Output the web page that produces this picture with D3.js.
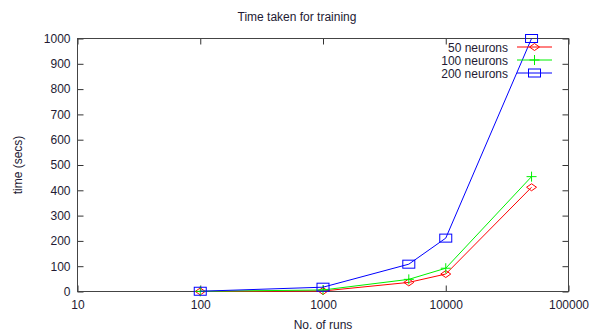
<!DOCTYPE html>
<html>
<head>
<meta charset="utf-8">
<script src="https://cdn.jsdelivr.net/npm/d3@7"></script>
<style>
  html, body { margin: 0; padding: 0; background: #fff; }
  svg text { font-family: "Liberation Sans", Arial, sans-serif; font-size: 12px; fill: #231a33; }
</style>
</head>
<body>
<svg id="chart" width="593" height="333"></svg>
<script>
// Training time against number of runs, for three network sizes
const runs = [100, 1000, 5000, 10000, 50000];
const neurons50 = [0.3, 2, 36, 69, 412];
const neurons100 = [0.6, 6, 48, 92, 454];
const neurons200 = [1, 17, 108, 211, 1000];
const seriesNames = ["50 neurons", "100 neurons", "200 neurons"];
const xTicks = [10, 100, 1000, 10000, 100000];
const yTicks = [0, 100, 200, 300, 400, 500, 600, 700, 800, 900, 1000];

const series = [
  { name: seriesNames[0], values: neurons50, color: "#ff0000", marker: "diamond" },
  { name: seriesNames[1], values: neurons100, color: "#00f000", marker: "plus" },
  { name: seriesNames[2], values: neurons200, color: "#0000ff", marker: "square" }
];

const svg = d3.select("#chart");
const m = { left: 77.5, right: 568.5, top: 38.5, bottom: 291.5 };

const x = d3.scaleLog().domain([10, 100000]).range([m.left, m.right]);
const y = d3.scaleLinear().domain([0, 1000]).range([m.bottom, m.top]);

// Title and axis labels
svg.append("text").attr("x", 297).attr("y", 21).attr("text-anchor", "middle").text("Time taken for training");
svg.append("text").attr("x", 323).attr("y", 329).attr("text-anchor", "middle").text("No. of runs");
svg.append("text")
  .attr("transform", "translate(22,165) rotate(-90)")
  .attr("text-anchor", "middle").text("time (secs)");

const fmt = d3.format("d");
function styleAxis(g) {
  g.select(".domain").remove();
  g.selectAll(".tick line").attr("stroke", "#333");
  g.selectAll(".tick text").attr("fill", null).style("font-size", "12px");
}

// Ticks point inward on all four sides
svg.append("g").attr("transform", `translate(0,${m.bottom})`)
  .call(d3.axisBottom(x).tickValues(xTicks).tickFormat(fmt).tickSizeInner(-6).tickSizeOuter(0).tickPadding(9))
  .call(styleAxis);
svg.append("g").attr("transform", `translate(0,${m.top})`)
  .call(d3.axisTop(x).tickValues(xTicks).tickFormat("").tickSizeInner(-6).tickSizeOuter(0))
  .call(styleAxis);
svg.append("g").attr("transform", `translate(${m.left},0)`)
  .call(d3.axisLeft(y).tickValues(yTicks).tickFormat(fmt).tickSizeInner(-6).tickSizeOuter(0).tickPadding(7))
  .call(styleAxis);
svg.append("g").attr("transform", `translate(${m.right},0)`)
  .call(d3.axisRight(y).tickValues(yTicks).tickFormat("").tickSizeInner(-6).tickSizeOuter(0))
  .call(styleAxis);

svg.append("rect")
  .attr("x", m.left).attr("y", m.top)
  .attr("width", m.right - m.left).attr("height", m.bottom - m.top)
  .attr("fill", "none").attr("stroke", "#444").attr("stroke-width", 1);

function drawMarker(g, type, cx, cy, color) {
  if (type === "diamond") {
    g.append("path")
      .attr("d", `M${cx - 5},${cy} L${cx},${cy - 3.5} L${cx + 5},${cy} L${cx},${cy + 3.5} Z`)
      .attr("fill", "none").attr("stroke", color).attr("stroke-width", 1);
  } else if (type === "plus") {
    g.append("path")
      .attr("d", `M${cx - 5},${cy} H${cx + 5} M${cx},${cy - 5} V${cy + 5}`)
      .attr("fill", "none").attr("stroke", color).attr("stroke-width", 1);
  } else {
    g.append("rect")
      .attr("x", cx - 6).attr("y", cy - 4).attr("width", 12).attr("height", 8)
      .attr("fill", "none").attr("stroke", color).attr("stroke-width", 1);
  }
}

const line = d3.line().x(d => x(d[0])).y(d => y(d[1]));

series.forEach(s => {
  const g = svg.append("g");
  const pts = runs.map((r, i) => [r, s.values[i]]);
  g.append("path").attr("d", line(pts))
    .attr("fill", "none").attr("stroke", s.color).attr("stroke-width", 1);
  pts.forEach(p => drawMarker(g, s.marker, x(p[0]), y(p[1]), s.color));
});

// Legend in the upper right corner
const legendY = [47, 60, 73];
series.forEach((s, i) => {
  const g = svg.append("g");
  g.append("text").attr("x", 508).attr("y", legendY[i] + 4.5).attr("text-anchor", "end").text(s.name);
  g.append("line").attr("x1", 517).attr("x2", 552).attr("y1", legendY[i]).attr("y2", legendY[i])
    .attr("stroke", s.color).attr("stroke-width", 1);
  drawMarker(g, s.marker, 534.5, legendY[i], s.color);
});
</script>
</body>
</html>
